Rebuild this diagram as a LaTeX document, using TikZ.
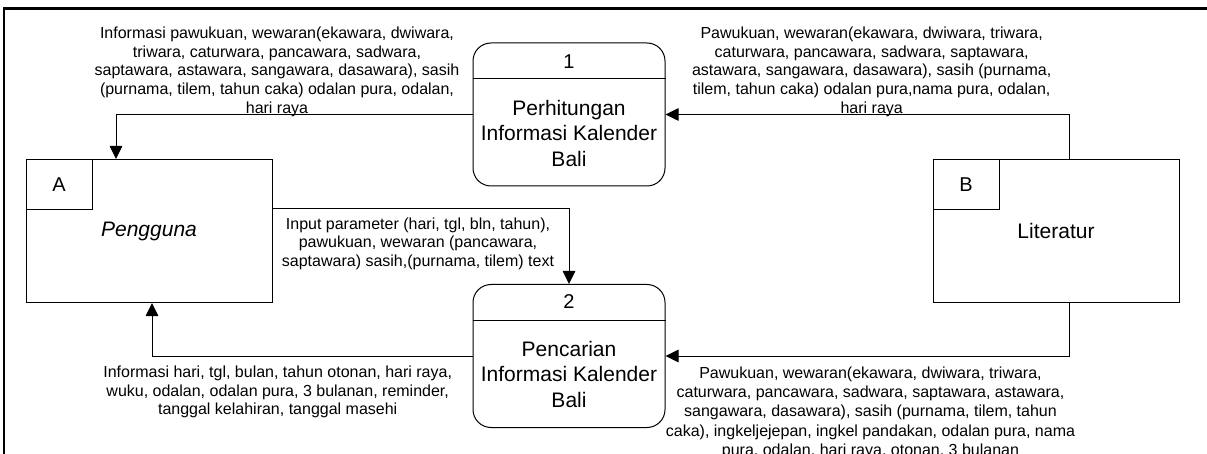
\documentclass[tikz,border=0pt]{standalone}
\usepackage{fontspec}
\setmainfont{Liberation Sans}
\usetikzlibrary{arrows.meta}
\tikzset{
  entbox/.style={draw=black, line width=1pt, minimum width=246pt, minimum height=143pt, inner sep=0pt, font=\fontsize{21pt}{25pt}\selectfont},
  idbox/.style={draw=black, line width=1pt, minimum width=66pt, minimum height=50.5pt, inner sep=0pt, anchor=north west, font=\fontsize{20pt}{24pt}\selectfont},
  procbox/.style={draw=black, line width=1pt, rounded corners=18pt, minimum width=192pt, minimum height=143pt, inner sep=0pt},
  proctext/.style={align=center, inner sep=0pt, font=\fontsize{21pt}{25.5pt}\selectfont},
  procid/.style={inner sep=0pt, font=\fontsize{20pt}{24pt}\selectfont},
  lbl/.style={align=center, inner sep=0pt, anchor=north, font=\fontsize{16pt}{18.7pt}\selectfont},
  flow/.style={draw=black, line width=0.9pt, -{Triangle[length=13pt,width=12.5pt]}},
}
\newcommand{\fl}{\rule{0pt}{12pt}}
\begin{document}
\begin{tikzpicture}[x=1pt,y=-1pt]
\useasboundingbox (0,0) rectangle (1207,454);
\clip (0,0) rectangle (1207,454);
\fill[white] (0,0) rectangle (1207,454);
% frame
\draw[line width=2.6pt] (3.8,470) -- (3.8,8.3) -- (1220,8.3);

% entities
\node[entbox] (A) at (149,231) {\textit{Pengguna}};
\node[idbox] (Aid) at (A.north west) {A};
\node[entbox] (B) at (1056,231) {Literatur};
\node[idbox] (Bid) at (B.north west) {B};

% processes
\node[procbox] (P1) at (569,114.5) {};
\draw[line width=1pt] ([yshift=-36pt]P1.north west) coordinate (P1dl) -- ([yshift=-36pt]P1.north east) coordinate (P1dr);
\node[procid] (P1n) at (569,62) {1};
\node[proctext] (P1t) at (569,133) {Perhitungan\\Informasi Kalender\\Bali};

\node[procbox] (P2) at (569,356) {};
\draw[line width=1pt] ([yshift=-36pt]P2.north west) coordinate (P2dl) -- ([yshift=-36pt]P2.north east) coordinate (P2dr);
\node[procid] (P2n) at (569,302) {2};
\node[proctext] (P2t) at (569,374) {Pencarian\\Informasi Kalender\\Bali};

% flows
\draw[flow] (P1.west) -| ([xshift=-33pt]A.north);
\draw[flow] ([xshift=13pt]B.north) |- (P1.east);
\draw[flow] ([yshift=23pt]A.east) -| (P2.north);
\draw[flow] (P2.west) -| ([xshift=3pt]A.south);
\draw[flow] ([xshift=13pt]B.south) |- (P2.east);

% labels
\node[lbl] (L1) at (277,26.3) {\fl Informasi pawukuan, wewaran(ekawara, dwiwara,\\triwara, caturwara, pancawara, sadwara,\\saptawara, astawara, sangawara, dasawara), sasih\\(purnama, tilem, tahun caka) odalan pura, odalan,\\hari raya};
\node[lbl] (L2) at (871.7,26.3) {\fl Pawukuan, wewaran(ekawara, dwiwara, triwara,\\caturwara, pancawara, sadwara, saptawara,\\astawara, sangawara, dasawara), sasih (purnama,\\tilem, tahun caka) odalan pura,nama pura, odalan,\\hari raya};
\node[lbl] (L3) at (418,217) {\fl Input parameter (hari, tgl, bln, tahun),\\pawukuan, wewaran (pancawara,\\saptawara) sasih,(purnama, tilem) text};
\node[lbl] (L4) at (277.7,365.3) {\fl Informasi hari, tgl, bulan, tahun otonan, hari raya,\\wuku, odalan, odalan pura, 3 bulanan, reminder,\\tanggal kelahiran, tanggal masehi};
\node[lbl, font=\fontsize{16pt}{19.4pt}\selectfont] (L5) at (870.5,365.8) {\fl Pawukuan, wewaran(ekawara, dwiwara, triwara,\\caturwara, pancawara, sadwara, saptawara, astawara,\\sangawara, dasawara), sasih (purnama, tilem, tahun\\caka), ingkeljejepan, ingkel pandakan, odalan pura, nama\\pura, odalan, hari raya, otonan, 3 bulanan};
\end{tikzpicture}
\end{document}
